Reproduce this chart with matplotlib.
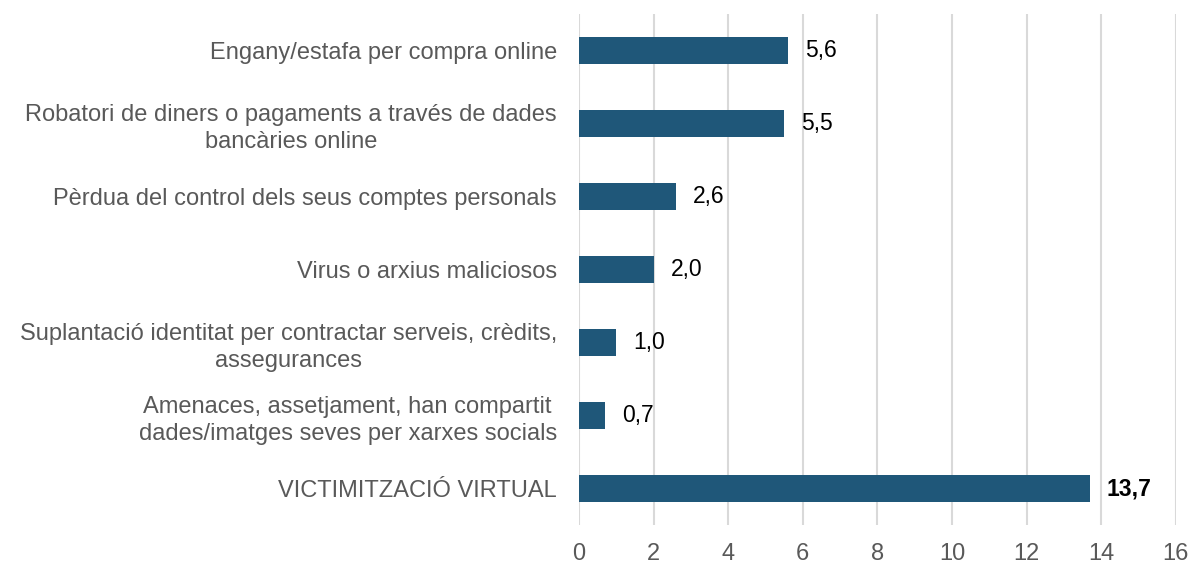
import numpy as np
import matplotlib
matplotlib.use("Agg")
import matplotlib.pyplot as plt

# Data (top to bottom)
categories = [
    "Engany/estafa per compra online",
    "Robatori de diners o pagaments a través de dades\nbancàries online",
    "Pèrdua del control dels seus comptes personals",
    "Virus o arxius maliciosos",
    "Suplantació identitat per contractar serveis, crèdits,\nassegurances",
    "Amenaces, assetjament, han compartit\ndades/imatges seves per xarxes socials",
    "VICTIMITZACIÓ VIRTUAL",
]
values = [5.6, 5.5, 2.6, 2.0, 1.0, 0.7, 13.7]
value_labels = ["5,6", "5,5", "2,6", "2,0", "1,0", "0,7", "13,7"]
xticks = [0, 2, 4, 6, 8, 10, 12, 14, 16]

plt.rcParams['font.family'] = ['Liberation Sans', 'DejaVu Sans']

fig = plt.figure(figsize=(11.89, 5.66), dpi=100)
ax = fig.add_axes([0.487, 0.0724, 0.502, 0.9029])

y = np.arange(len(categories))[::-1]
ax.barh(y, values, height=0.36, color='#1f5779', zorder=3)

for yi, v, lab, cat in zip(y, values, value_labels, categories):
    bold = cat.startswith("VICTIM")
    ax.text(v + 0.45, yi, lab, va='center', ha='left', fontsize=16.5,
            color='black', fontweight='bold' if bold else 'normal')

ax.set_yticks(y)
ax.set_yticklabels(categories, fontsize=17, color='#595959',
                   linespacing=1.3, multialignment='center')
ax.set_xticks(xticks)
ax.set_xticklabels([str(t) for t in xticks], fontsize=17, color='#595959')
ax.set_xlim(0, 16)
ax.set_ylim(-0.5, len(categories) - 0.5)
ax.tick_params(axis='both', length=0)
ax.tick_params(axis='y', pad=16)
ax.tick_params(axis='x', pad=13)
ax.grid(axis='x', color='#d9d9d9', linewidth=1.5, zorder=0)
for s in ax.spines.values():
    s.set_visible(False)

plt.savefig('out.png', dpi=100)
